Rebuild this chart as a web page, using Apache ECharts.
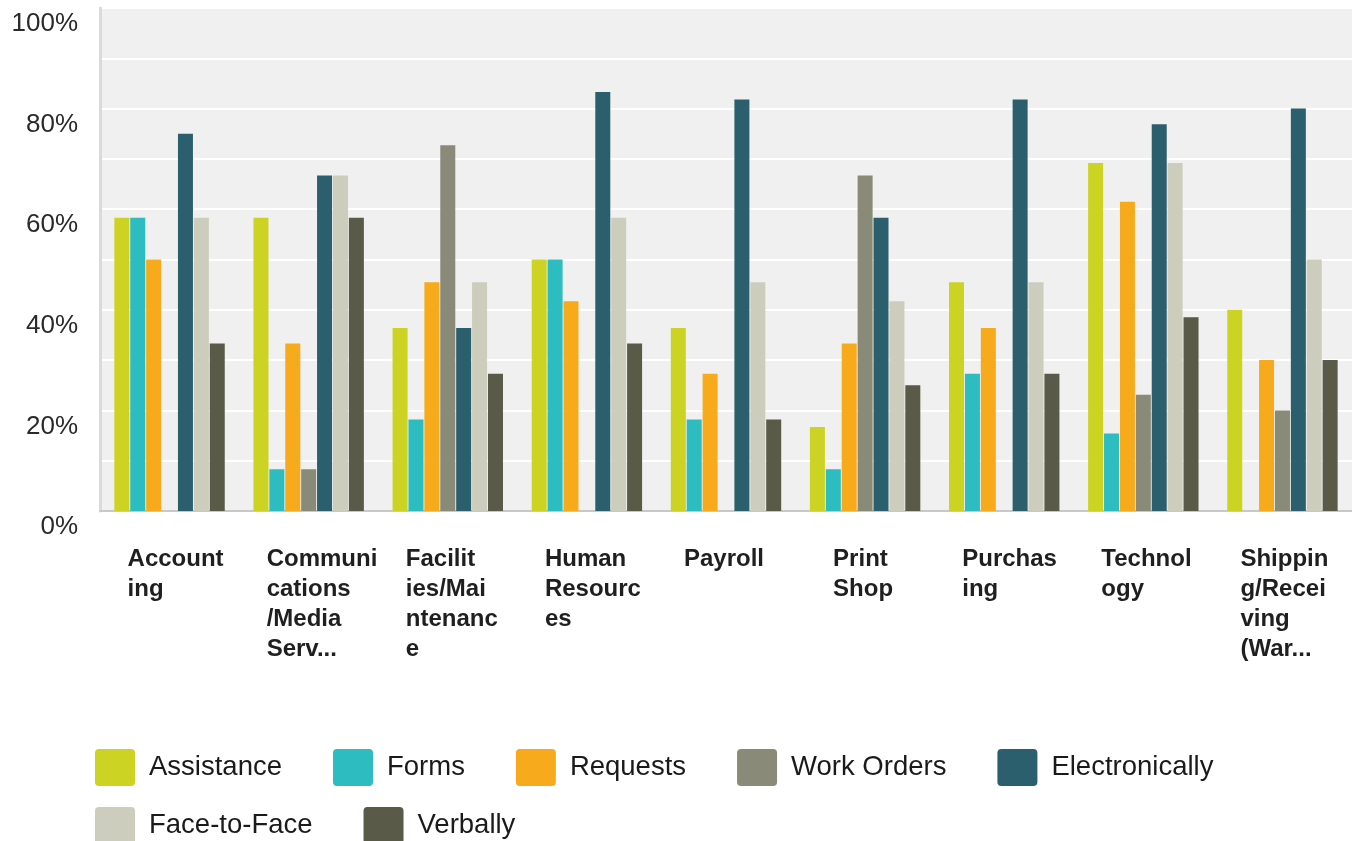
<!DOCTYPE html>
<html>
<head>
<meta charset="utf-8">
<script src="https://cdn.jsdelivr.net/npm/echarts@6/dist/echarts.min.js"></script>
<style>
html,body{margin:0;padding:0;background:#fff;}
#chart{width:1352px;height:841px;}
</style>
</head>
<body>
<div id="chart"></div>
<script>
var categories = ['Accounting', 'Communications/Media Serv...', 'Facilities/Maintenance', 'Human Resources', 'Payroll', 'Print Shop', 'Purchasing', 'Technology', 'Shipping/Receiving (War...'];
var tickLabels = ['Account\ning', 'Communi\ncations\n/Media\nServ...', 'Facilit\nies/Mai\nntenanc\ne', 'Human\nResourc\nes', 'Payroll', 'Print\nShop', 'Purchas\ning', 'Technol\nogy', 'Shippin\ng/Recei\nving\n(War...'];
var seriesNames = ['Assistance', 'Forms', 'Requests', 'Work Orders', 'Electronically', 'Face-to-Face', 'Verbally'];
var assistance     = [58.3, 58.3, 36.4, 50.0, 36.4, 16.7, 45.5, 69.2, 40.0];
var forms          = [58.3,  8.3, 18.2, 50.0, 18.2,  8.3, 27.3, 15.4,  0.0];
var requests       = [50.0, 33.3, 45.5, 41.7, 27.3, 33.3, 36.4, 61.5, 30.0];
var workOrders     = [ 0.0,  8.3, 72.7,  0.0,  0.0, 66.7,  0.0, 23.1, 20.0];
var electronically = [75.0, 66.7, 36.4, 83.3, 81.8, 58.3, 81.8, 76.9, 80.0];
var faceToFace     = [58.3, 66.7, 45.5, 58.3, 45.5, 41.7, 45.5, 69.2, 50.0];
var verbally       = [33.3, 58.3, 27.3, 33.3, 18.2, 25.0, 27.3, 38.5, 30.0];
var yTicks = [0, 20, 40, 60, 80, 100];

var colors = ['#cdd322', '#2dbcbf', '#f7aa1c', '#898a77', '#2b5f6d', '#cdcdbd', '#595a48'];
var values = [assistance, forms, requests, workOrders, electronically, faceToFace, verbally];
var font = "'Liberation Sans', Arial, Helvetica, sans-serif";
var iconPath = 'path://M4,0 H36 A4,4 0 0 1 40,4 V33 A4,4 0 0 1 36,37 H4 A4,4 0 0 1 0,33 V4 A4,4 0 0 1 4,0 Z';

var series = seriesNames.map(function (name, i) {
  return {
    name: name,
    type: 'bar',
    data: values[i],
    barWidth: 15,
    barGap: '6%',
    itemStyle: { color: colors[i] },
    emphasis: { disabled: true }
  };
});

var axisData = categories.map(function (c) {
  return c === 'Print Shop'
    ? { value: c, textStyle: { align: 'left', verticalAlign: 'top', padding: [0, 0, 0, -32] } }
    : c;
});

function legendCfg(data, top) {
  return {
    data: data,
    left: 90,
    top: top,
    orient: 'horizontal',
    itemWidth: 40,
    itemHeight: 37,
    itemGap: 51,
    icon: iconPath,
    selectedMode: false,
    textStyle: { fontFamily: font, fontSize: 27.5, color: '#1a1a1a', padding: [0, 0, 0, 9] }
  };
}

var chart = echarts.init(document.getElementById('chart'), null, { renderer: 'canvas' });
chart.setOption({
  animation: false,
  color: colors,
  grid: {
    left: 100, right: 0, top: 8, bottom: 330,
    show: true, backgroundColor: '#f0f0f0', borderWidth: 0,
    containLabel: false
  },
  legend: [
    legendCfg(seriesNames.slice(0, 5), 744),
    legendCfg(seriesNames.slice(5), 802)
  ],
  xAxis: {
    type: 'category',
    data: axisData,
    axisLine: { show: true, lineStyle: { color: '#c8c8c8', width: 2 } },
    axisTick: { show: false },
    axisLabel: {
      interval: 0,
      align: 'left',
      verticalAlign: 'top',
      margin: 33,
      padding: [0, 0, 0, -42],
      fontFamily: font,
      fontSize: 24,
      fontWeight: 'bold',
      lineHeight: 30,
      color: '#1f1f1f',
      formatter: function (v, idx) { return tickLabels[idx]; }
    }
  },
  yAxis: {
    type: 'value',
    min: 0,
    max: 100,
    interval: 10,
    axisLine: { show: true, lineStyle: { color: '#dadada', width: 3 } },
    axisTick: { show: false },
    splitLine: { show: true, lineStyle: { color: '#ffffff', width: 2 } },
    axisLabel: {
      margin: 22,
      fontFamily: font,
      fontSize: 26,
      color: '#2a2a2a',
      verticalAlign: 'top',
      lineHeight: 32,
      formatter: function (v) { return yTicks.indexOf(v) >= 0 ? v + '%' : ''; }
    }
  },
  series: series
});
</script>
</body>
</html>
